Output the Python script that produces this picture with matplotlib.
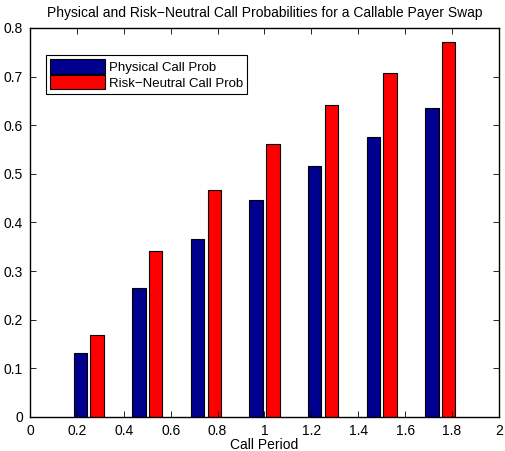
import matplotlib
matplotlib.use("Agg")
import matplotlib.pyplot as plt
import numpy as np

# call dates and probabilities per period
call_period = [0.25, 0.5, 0.75, 1.0, 1.25, 1.5, 1.75]
physical_prob = [0.132, 0.265, 0.366, 0.446, 0.517, 0.575, 0.635]
risk_neutral_prob = [0.169, 0.342, 0.466, 0.562, 0.642, 0.707, 0.771]

plt.rcParams['font.family'] = ['Liberation Sans', 'DejaVu Sans']
plt.rcParams['font.size'] = 10

fig = plt.figure(figsize=(5.05, 4.51), dpi=100)
ax = fig.add_axes([0.0594, 0.0754, 0.9286, 0.8626])

x = np.array(call_period)
spacing = 0.25
group = spacing * 2 / 3.5
w = 0.8 * group / 2
ax.bar(x - group / 4, physical_prob, w, color='#00008f', edgecolor='black',
       linewidth=0.8, label='Physical Call Prob')
ax.bar(x + group / 4, risk_neutral_prob, w, color='#ff0000', edgecolor='black',
       linewidth=0.8, label='Risk\u2212Neutral Call Prob')

ax.set_xlim(0, 2)
ax.set_ylim(0, 0.8)
ax.set_xticks(np.arange(0, 2.01, 0.2))
ax.set_xticklabels(['0', '0.2', '0.4', '0.6', '0.8', '1', '1.2', '1.4', '1.6', '1.8', '2'])
ax.set_yticks(np.arange(0, 0.81, 0.1))
ax.set_yticklabels(['0', '0.1', '0.2', '0.3', '0.4', '0.5', '0.6', '0.7', '0.8'])
ax.tick_params(direction='in', top=True, right=True, length=4, width=0.6,
               labelsize=10, pad=5)
for s in ax.spines.values():
    s.set_linewidth(1.0)

ax.set_xlabel('Call Period', fontsize=10, labelpad=0)
ax.set_title('Physical and Risk\u2212Neutral Call Probabilities for a Callable Payer Swap',
             fontsize=10, pad=8)

leg = ax.legend(loc='upper left', bbox_to_anchor=(0.034, 0.93), fontsize=9.5,
                handlelength=4.2, handleheight=1.3, handletextpad=0.3,
                labelspacing=0.1, borderpad=0.3, fancybox=False,
                framealpha=1, borderaxespad=0)
leg.get_frame().set_edgecolor('black')
leg.get_frame().set_linewidth(0.8)

fig.savefig('out.png', dpi=100)
